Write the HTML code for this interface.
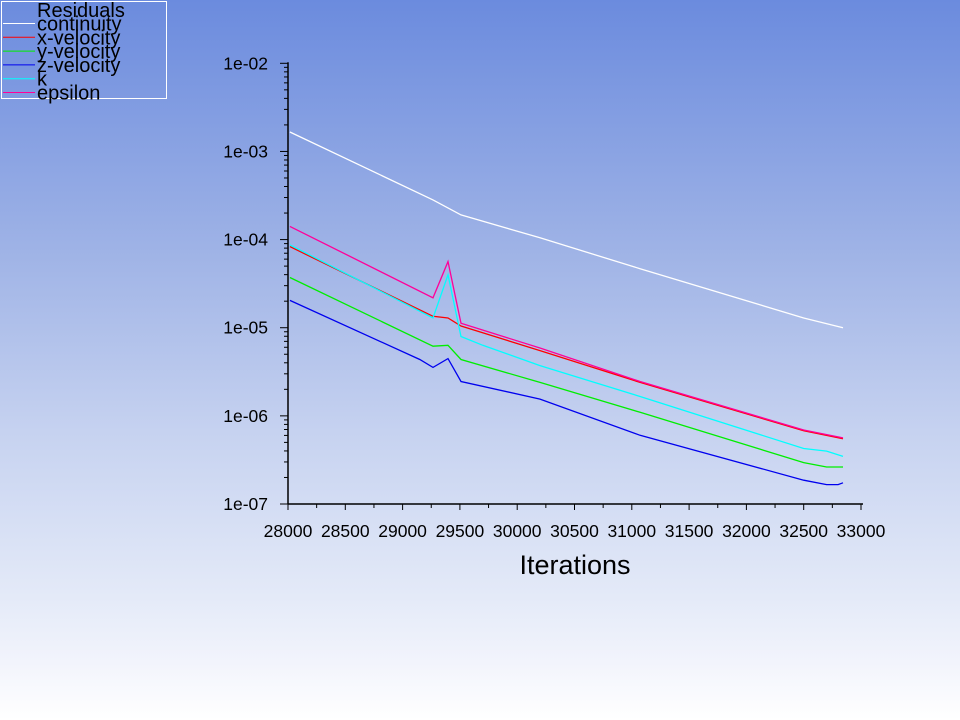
<!DOCTYPE html>
<html><head><meta charset="utf-8"><style>
html,body{margin:0;padding:0}
body{width:960px;height:720px;overflow:hidden;background:linear-gradient(to bottom,#6b8bde 0%,#9fb3e6 35%,#c6d2f0 60%,#e4eaf8 83%,#f2f4fc 92%,#ffffff 100%);font-family:"Liberation Sans",sans-serif}
svg{position:absolute;left:0;top:0}
</style></head><body>
<svg id="chart" width="960" height="720">
<g id="legend"></g>
<g id="axes"></g>
<g id="series"></g>
<text x="575" y="574" font-size="27" text-anchor="middle" fill="#000">Iterations</text>
</svg>
<script>
const xTicks=[28000,28500,29000,29500,30000,30500,31000,31500,32000,32500,33000];
const yTickLabels=["1e-02","1e-03","1e-04","1e-05","1e-06","1e-07"];
const seriesNames=["continuity","x-velocity","y-velocity","z-velocity","k","epsilon"];
const seriesColors=["#ffffff","#ff0000","#00ee00","#0000ee","#00ffff","#ff0099"];
const itContinuity=[28017,29265,29510,30199,31072,32500,32843];
const logContinuity=[-2.78,-3.55,-3.72,-3.98,-4.33,-4.89,-5.0];
const itX=[28017,29265,29396,29510,30199,31072,32500,32843];
const logX=[-4.08,-4.87,-4.89,-4.98,-5.26,-5.62,-6.17,-6.26];
const itY=[28017,29265,29396,29510,30199,31072,32500,32700,32843];
const logY=[-4.43,-5.21,-5.20,-5.36,-5.62,-5.96,-6.53,-6.58,-6.58];
const itZ=[28017,29150,29265,29396,29510,30199,31072,32500,32700,32800,32843];
const logZ=[-4.69,-5.36,-5.45,-5.35,-5.61,-5.81,-6.22,-6.73,-6.78,-6.78,-6.76];
const itK=[28017,29265,29396,29510,29700,30199,31072,32500,32700,32843];
const logK=[-4.06,-4.89,-4.40,-5.10,-5.20,-5.43,-5.78,-6.37,-6.40,-6.46];
const itE=[28017,29265,29396,29510,30199,31072,32500,32843];
const logE=[-3.85,-4.66,-4.25,-4.95,-5.23,-5.61,-6.16,-6.25];
const NS="http://www.w3.org/2000/svg";
const X0=288,X1=861,Y0=504,YT=63.3;
const xs=v=>X0+(v-28000)/5000*(X1-X0);
const ys=l=>YT+(-2-l)*(Y0-YT)/5;
function mk(tag,attrs,parent){const e=document.createElementNS(NS,tag);for(const k in attrs)e.setAttribute(k,attrs[k]);parent.appendChild(e);return e;}
const axes=document.getElementById('axes');
let a=mk('line',{x1:X0,y1:YT-1,x2:X0,y2:Y0,stroke:'#000','stroke-width':1.5},axes);

a=mk('line',{x1:X0,y1:Y0,x2:X1+2,y2:Y0,stroke:'#000','stroke-width':1.5},axes);

xTicks.forEach((t,i)=>{const x=xs(t);
 const l=mk('line',{x1:x,y1:Y0,x2:x,y2:Y0+6,stroke:'#000'},axes);
 
 if(i<xTicks.length-1){const m=mk('line',{x1:x+(X1-X0)/20,y1:Y0,x2:x+(X1-X0)/20,y2:Y0+4,stroke:'#000'},axes);
 }
 const tx=mk('text',{x:x,y:Y0+33,'font-size':17.5,'text-anchor':'middle',fill:'#000'},axes);tx.textContent=t;
 });
yTickLabels.forEach((s,i)=>{const y=ys(-2-i);
 const l=mk('line',{x1:X0-8,y1:y,x2:X0,y2:y,stroke:'#000'},axes);
 
 const tx=mk('text',{x:X0-20,y:y+6,'font-size':17.5,'text-anchor':'end',fill:'#000'},axes);tx.textContent=s;
 
 if(i<5){for(let k=2;k<=9;k++){const yy=ys(-2-i-1+Math.log10(k));
  const m=mk('line',{x1:X0-4,y1:yy,x2:X0,y2:yy,stroke:'#000'},axes);
  }}});
const ser=document.getElementById('series');
const data=[[itContinuity,logContinuity],[itX,logX],[itY,logY],[itZ,logZ],[itK,logK],[itE,logE]];
data.forEach((d,i)=>{const pts=d[0].map((v,j)=>xs(v).toFixed(1)+','+ys(d[1][j]).toFixed(1)).join(' ');
 const p=mk('polyline',{points:pts,fill:'none',stroke:seriesColors[i],'stroke-width':1.3},ser);
 });
const lg=document.getElementById('legend');
const r=mk('rect',{x:1.5,y:1.5,width:165,height:97,fill:'none',stroke:'#fff','stroke-width':1},lg);

const ttl=mk('text',{x:37,y:17,'font-size':20,fill:'#000'},lg);ttl.textContent='Residuals';

seriesNames.forEach((n,i)=>{const y=23.5+i*13.8;
 const l=mk('line',{x1:3,y1:y,x2:35,y2:y,stroke:seriesColors[i],'stroke-width':1},lg);
 
 const t=mk('text',{x:37,y:y+7,'font-size':20,fill:'#000'},lg);t.textContent=n;
 });
</script>
</body></html>
